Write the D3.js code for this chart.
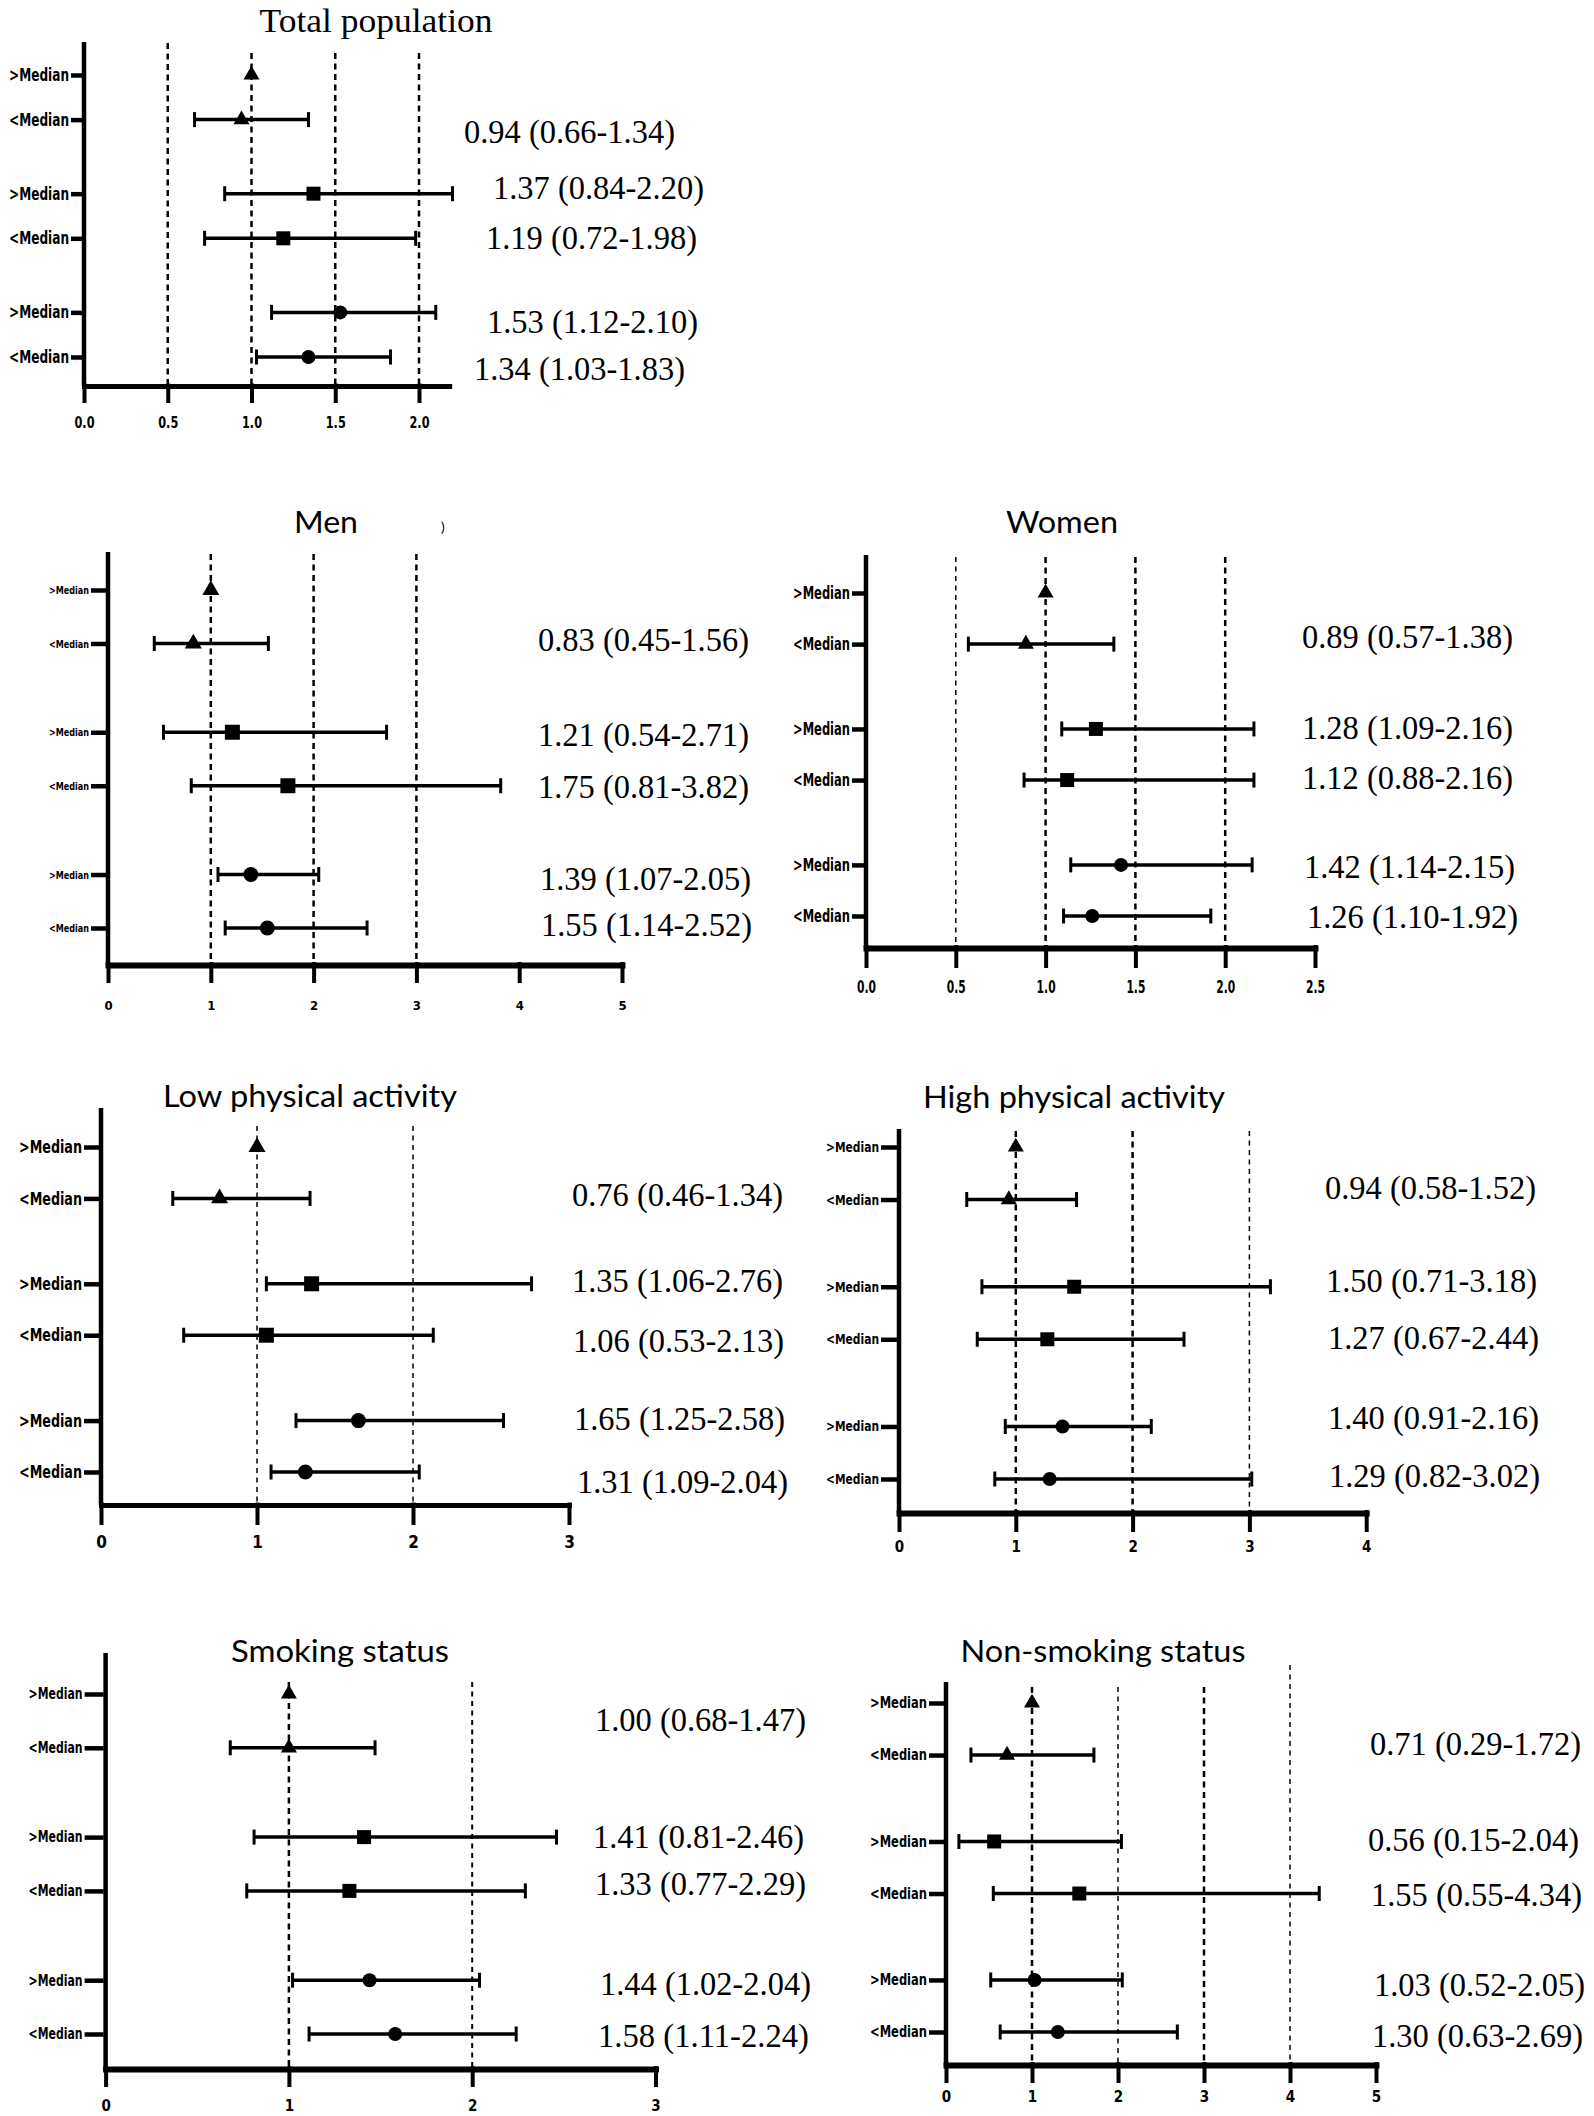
<!DOCTYPE html>
<html>
<head>
<meta charset="utf-8">
<script src="https://cdn.jsdelivr.net/npm/d3@7/dist/d3.min.js"></script>
<style>
  html, body { margin: 0; padding: 0; background: #fff; }
  svg { display: block; }
</style>
</head>
<body>
<svg id="chart" width="1594" height="2116"></svg>
<script>
// ---------------- DATA ----------------
const panelTitles = ["Total population", "Men", "Women", "Low physical activity",
  "High physical activity", "Smoking status", "Non-smoking status"];
const rowLabels = [">Median", "<Median", ">Median", "<Median", ">Median", "<Median"];
const rowShapes = ["triangle", "triangle", "square", "square", "circle", "circle"];
// hazard ratios (row 1 of each panel is the reference, 1.00, no CI)
const hazardRatio = [
  [1.00, 0.94, 1.37, 1.19, 1.53, 1.34],
  [1.00, 0.83, 1.21, 1.75, 1.39, 1.55],
  [1.00, 0.89, 1.28, 1.12, 1.42, 1.26],
  [1.00, 0.76, 1.35, 1.06, 1.65, 1.31],
  [1.00, 0.94, 1.50, 1.27, 1.40, 1.29],
  [1.00, 1.00, 1.41, 1.33, 1.44, 1.58],
  [1.00, 0.71, 0.56, 1.55, 1.03, 1.30]
];
const ciLower = [
  [null, 0.66, 0.84, 0.72, 1.12, 1.03],
  [null, 0.45, 0.54, 0.81, 1.07, 1.14],
  [null, 0.57, 1.09, 0.88, 1.14, 1.10],
  [null, 0.46, 1.06, 0.53, 1.25, 1.09],
  [null, 0.58, 0.71, 0.67, 0.91, 0.82],
  [null, 0.68, 0.81, 0.77, 1.02, 1.11],
  [null, 0.29, 0.15, 0.55, 0.52, 0.63]
];
const ciUpper = [
  [null, 1.34, 2.20, 1.98, 2.10, 1.83],
  [null, 1.56, 2.71, 3.82, 2.05, 2.52],
  [null, 1.38, 2.16, 2.16, 2.15, 1.92],
  [null, 1.34, 2.76, 2.13, 2.58, 2.04],
  [null, 1.52, 3.18, 2.44, 2.16, 3.02],
  [null, 1.47, 2.46, 2.29, 2.04, 2.24],
  [null, 1.72, 2.04, 4.34, 2.05, 2.69]
];
const xTicks = [
  [0, 0.5, 1, 1.5, 2],
  [0, 1, 2, 3, 4, 5],
  [0, 0.5, 1, 1.5, 2, 2.5],
  [0, 1, 2, 3],
  [0, 1, 2, 3, 4],
  [0, 1, 2, 3],
  [0, 1, 2, 3, 4, 5]
];
const tickFormats = [".1f", "d", ".1f", "d", "d", "d", "d"];
const refLines = [
  [0.5, 1, 1.5, 2],
  [1, 2, 3],
  [0.5, 1, 1.5, 2],
  [1, 2],
  [1, 2, 3],
  [1, 2],
  [1, 2, 3, 4]
];

// ---------------- LAYOUT (positions / styles) ----------------
const G = 2.66; // group spacing in row units
const rowSlots = [0, 1, G, G + 1, 2 * G, 2 * G + 1];
const layout = [
  { x0: 84, unit: 167.5, axisMax: 2.18, top: 42, axisY: 386, r0: 75, r5: 357,
    gridTop: [43, 53, 53, 53], gridW: [2.5, 2.5, 2.5, 2.5], labSize: 17, labW: 60, rowTick: 11,
    tickLab: 422, tickSize: 16, tickLabW: 20, tickLen: 17, xAxisW: 5, mk: 14,
    title: { x: 376, y: 32, w: 233, size: 33, serif: true },
    ann: [[464, 132], [493, 188], [486, 238], [487, 322], [474, 369]] },
  { x0: 108, unit: 102.8, axisMax: 5, top: 552, axisY: 965, r0: 590, r5: 928,
    gridTop: [554, 554, 554], gridW: [2.5, 2.5, 2.5], labSize: 11, labW: 40, rowTick: 15,
    tickLab: 1005, tickSize: 13, tickLabW: 0, tickLen: 18, xAxisW: 6, mk: 15,
    title: { x: 326, y: 533, w: 64, size: 30 },
    ann: [[538, 640], [538, 735], [538, 787], [540, 879], [541, 925]] },
  { x0: 866, unit: 179.6, axisMax: 2.5, top: 555, axisY: 948, r0: 593, r5: 916,
    gridTop: [557, 557, 557, 557], gridW: [1.5, 2.5, 2.5, 2.5], labSize: 17, labW: 57, rowTick: 12,
    tickLab: 987, tickSize: 17, tickLabW: 19, tickLen: 20, xAxisW: 6, mk: 14,
    title: { x: 1062, y: 533, w: 112, size: 30 },
    ann: [[1302, 637], [1302, 728], [1302, 778], [1304, 867], [1307, 917]] },
  { x0: 101, unit: 156, axisMax: 3, top: 1108, axisY: 1505, r0: 1147, r5: 1472,
    gridTop: [1126, 1126], gridW: [1.5, 1.5], labSize: 18, labW: 63, rowTick: 15,
    tickLab: 1542, tickSize: 17, tickLabW: 0, tickLen: 20, xAxisW: 5, mk: 15,
    title: { x: 310, y: 1107, w: 294, size: 30 },
    ann: [[572, 1195], [572, 1281], [573, 1341], [574, 1419], [577, 1482]] },
  { x0: 899, unit: 116.8, axisMax: 4, top: 1129, axisY: 1513, r0: 1147, r5: 1479,
    gridTop: [1131, 1131, 1131], gridW: [2.5, 2.5, 1.5], labSize: 14, labW: 53, rowTick: 16,
    tickLab: 1547, tickSize: 15, tickLabW: 0, tickLen: 19, xAxisW: 6, mk: 14,
    title: { x: 1074, y: 1108, w: 302, size: 30 },
    ann: [[1325, 1188], [1326, 1281], [1328, 1338], [1328, 1418], [1329, 1476]] },
  { x0: 105.6, unit: 183.3, axisMax: 3, top: 1653, axisY: 2069, r0: 1694, r5: 2034,
    gridTop: [1682, 1682], gridW: [2.5, 2], labSize: 15, labW: 54, rowTick: 19,
    tickLab: 2106, tickSize: 15, tickLabW: 0, tickLen: 18, xAxisW: 6, mk: 14,
    title: { x: 340, y: 1662, w: 218, size: 30 },
    ann: [[595, 1720], [593, 1837], [595, 1884], [600, 1984], [598, 2036]] },
  { x0: 946, unit: 86, axisMax: 5, top: 1682, axisY: 2065, r0: 1703, r5: 2032,
    gridTop: [1687, 1687, 1687, 1665], gridW: [2.5, 1.5, 2.5, 1.5], labSize: 15, labW: 57, rowTick: 15,
    tickLab: 2097, tickSize: 15, tickLabW: 0, tickLen: 18, xAxisW: 6, mk: 14,
    title: { x: 1103, y: 1662, w: 285, size: 30 },
    ann: [[1370, 1744], [1368, 1840], [1371, 1895], [1374, 1985], [1372, 2036]] }
];

const NARROW = "'Liberation Sans Narrow', 'Arial Narrow', 'DejaVu Sans Condensed', sans-serif";
const SERIF = "'Liberation Serif', 'Times New Roman', serif";
const SANS = "Lato, 'Open Sans', 'Noto Sans', sans-serif";

const svg = d3.select("#chart");
svg.append("rect").attr("width", 1594).attr("height", 2116).attr("fill", "#fff");

panelTitles.forEach((title, p) => {
  const L = layout[p];
  const g = svg.append("g").attr("class", "panel");
  const x = d3.scaleLinear().domain([0, L.axisMax]).range([L.x0, L.x0 + L.axisMax * L.unit]);
  const y = d3.scaleLinear().domain([0, rowSlots[5]]).range([L.r0, L.r5]);

  // title
  g.append("text")
    .attr("x", L.title.x).attr("y", L.title.y)
    .attr("text-anchor", "middle")
    .attr("font-family", L.title.serif ? SERIF : SANS)
    .attr("font-size", L.title.size)
    .attr("textLength", L.title.w).attr("lengthAdjust", "spacingAndGlyphs")
    .attr("fill", "#000")
    .text(title);

  // reference (dashed) lines
  refLines[p].forEach((v, i) => {
    g.append("line")
      .attr("x1", x(v)).attr("x2", x(v))
      .attr("y1", L.gridTop[i]).attr("y2", L.axisY)
      .attr("stroke", "#000")
      .attr("stroke-width", L.gridW[i])
      .attr("stroke-dasharray", L.gridW[i] > 2 ? "6,4.5" : "5,4.5");
  });

  // x axis
  const xAxis = d3.axisBottom(x)
    .tickValues(xTicks[p])
    .tickFormat(d3.format(tickFormats[p]))
    .tickSize(L.tickLen)
    .tickSizeOuter(0);
  const ax = g.append("g").attr("transform", `translate(0,${L.axisY})`).call(xAxis);
  ax.select(".domain")
    .attr("stroke", "#000").attr("stroke-width", L.xAxisW).attr("stroke-linecap", "square");
  ax.selectAll(".tick line").attr("stroke", "#000").attr("stroke-width", 4)
    .attr("y1", -L.xAxisW / 2);
  const tl = ax.selectAll(".tick text")
    .attr("y", L.tickLab - L.axisY).attr("dy", "0.35em")
    .attr("font-family", NARROW).attr("font-weight", "bold")
    .attr("font-size", L.tickSize).attr("fill", "#000");
  if (L.tickLabW > 0) tl.attr("textLength", L.tickLabW).attr("lengthAdjust", "spacingAndGlyphs");

  // y axis line
  g.append("line")
    .attr("x1", L.x0).attr("x2", L.x0)
    .attr("y1", L.top).attr("y2", L.axisY)
    .attr("stroke", "#000").attr("stroke-width", 4.5);

  // y axis row ticks + labels
  const yAxis = d3.axisLeft(y)
    .tickValues(rowSlots)
    .tickFormat((d, i) => rowLabels[i])
    .tickSize(L.rowTick)
    .tickPadding(2);
  const ay = g.append("g").attr("transform", `translate(${L.x0 - 2},0)`).call(yAxis);
  ay.select(".domain").remove();
  ay.selectAll(".tick line").attr("stroke", "#000").attr("stroke-width", 4.5);
  ay.selectAll(".tick text")
    .attr("font-family", NARROW).attr("font-weight", "bold")
    .attr("font-size", L.labSize).attr("fill", "#000")
    .attr("textLength", L.labW).attr("lengthAdjust", "spacingAndGlyphs");

  // error bars + markers
  const rows = hazardRatio[p].map((hr, i) => ({
    hr, lo: ciLower[p][i], hi: ciUpper[p][i], slot: rowSlots[i], shape: rowShapes[i]
  }));
  const capH = 15;
  rows.filter(r => r.lo !== null).forEach(r => {
    const yy = y(r.slot);
    g.append("line").attr("x1", x(r.lo)).attr("x2", x(r.hi)).attr("y1", yy).attr("y2", yy)
      .attr("stroke", "#000").attr("stroke-width", 3.5);
    [r.lo, r.hi].forEach(v => {
      g.append("line").attr("x1", x(v)).attr("x2", x(v))
        .attr("y1", yy - capH / 2).attr("y2", yy + capH / 2)
        .attr("stroke", "#000").attr("stroke-width", 3);
    });
  });
  const symType = { triangle: d3.symbolTriangle, square: d3.symbolSquare, circle: d3.symbolCircle };
  rows.forEach(r => {
    const s = r.shape === "triangle" ? L.mk + 2 : L.mk;
    const area = r.shape === "triangle" ? 0.433 * s * s : r.shape === "square" ? s * s : Math.PI * s * s / 4;
    g.append("path")
      .attr("d", d3.symbol().type(symType[r.shape]).size(area)())
      .attr("transform", `translate(${x(r.hr)},${y(r.slot)})`)
      .attr("fill", "#000");
  });

  // annotations
  rows.slice(1).forEach((r, i) => {
    const a = L.ann[i];
    g.append("text")
      .attr("x", a[0]).attr("y", a[1] + 11)
      .attr("font-family", SERIF).attr("font-size", 34)
      .attr("textLength", 211).attr("lengthAdjust", "spacingAndGlyphs")
      .attr("fill", "#000")
      .text(`${r.hr.toFixed(2)} (${r.lo.toFixed(2)}-${r.hi.toFixed(2)})`);
  });
});

// stray glyph next to the "Men" title in the original figure
svg.append("text").attr("x", 441).attr("y", 532)
  .attr("font-family", SANS).attr("font-size", 14).attr("fill", "#000").text(")");
</script>
</body>
</html>
